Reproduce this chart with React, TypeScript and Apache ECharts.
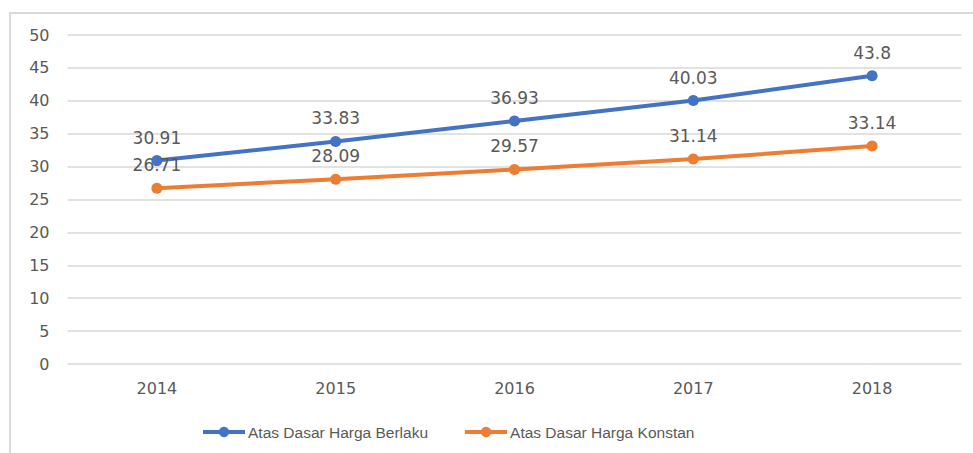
import React, { useEffect, useRef } from "react";
import * as echarts from "echarts";

const years = ["2014", "2015", "2016", "2017", "2018"];
const berlaku = [30.91, 33.83, 36.93, 40.03, 43.8];
const konstan = [26.71, 28.09, 29.57, 31.14, 33.14];
const seriesNames = ["Atas Dasar Harga Berlaku", "Atas Dasar Harga Konstan"];

export default function App() {
  const ref = useRef<HTMLDivElement>(null);
  useEffect(() => {
    if (!ref.current) return;
    const chart = echarts.init(ref.current, null, { renderer: "svg" });
    const labelStyle = {
      show: true,
      position: "top" as const,
      distance: 9,
      color: "#595959",
      fontSize: 17,
      fontFamily: "DejaVu Sans",
    };
    chart.setOption({
      animation: false,
      backgroundColor: "#ffffff",
      grid: { left: 67.5, right: 11.5, top: 35, bottom: 89, containLabel: false },
      graphic: [
        { type: "line", shape: { x1: 10, y1: 13, x2: 973, y2: 13 }, style: { stroke: "#d9d9d9", lineWidth: 2 } },
        { type: "line", shape: { x1: 10, y1: 12, x2: 10, y2: 453 }, style: { stroke: "#d9d9d9", lineWidth: 2 } },
      ],
      xAxis: {
        type: "category",
        data: years,
        boundaryGap: true,
        axisLine: { show: false },
        axisTick: { show: false },
        axisLabel: { color: "#595959", fontSize: 16, fontFamily: "DejaVu Sans", margin: 16 },
      },
      yAxis: {
        type: "value",
        min: 0,
        max: 50,
        interval: 5,
        axisLine: { show: false },
        axisTick: { show: false },
        axisLabel: { color: "#595959", fontSize: 16, fontFamily: "DejaVu Sans", margin: 18 },
        splitLine: { lineStyle: { color: "#d9d9d9", width: 1.5 } },
      },
      legend: {
        left: 196,
        top: 419,
        itemWidth: 42,
        itemHeight: 13,
        itemGap: 35,
        lineStyle: { width: 4 },
        textStyle: { color: "#595959", fontSize: 15.5, fontFamily: "Liberation Sans", padding: [0, 0, 0, -2] },
        data: seriesNames,
      },
      series: [
        {
          name: seriesNames[0],
          type: "line",
          data: berlaku,
          symbol: "circle",
          symbolSize: 11,
          color: "#4472C4",
          lineStyle: { width: 4, color: "#4472C4" },
          itemStyle: { color: "#4472C4" },
          label: labelStyle,
        },
        {
          name: seriesNames[1],
          type: "line",
          data: konstan,
          symbol: "circle",
          symbolSize: 11,
          color: "#ED7D31",
          lineStyle: { width: 4, color: "#ED7D31" },
          itemStyle: { color: "#ED7D31" },
          label: labelStyle,
        },
      ],
    });
    return () => chart.dispose();
  }, []);
  return (
    <div
      ref={ref}
      style={{ position: "absolute", left: 0, top: 0, width: 973, height: 453 }}
    />
  );
}
